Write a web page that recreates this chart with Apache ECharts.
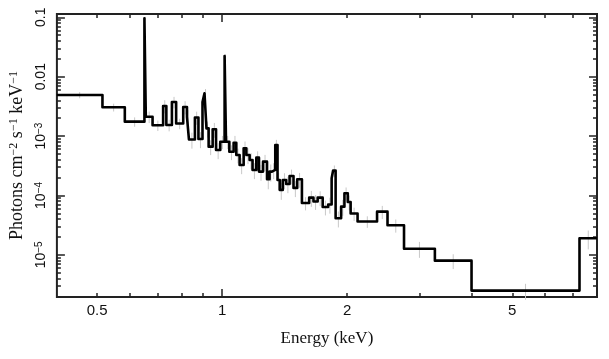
<!DOCTYPE html>
<html><head><meta charset="utf-8">
<script src="https://cdn.jsdelivr.net/npm/echarts@6/dist/echarts.min.js"></script>
<style>html,body{margin:0;padding:0;background:#fff}#c{width:609px;height:359px}</style>
</head><body><div id="c"></div>
<script>
// Bin edges in keV (n+1 values)
const binEdges = [0.4, 0.515, 0.583, 0.650, 0.655, 0.680, 0.721, 0.734, 0.757, 0.775,
  0.806, 0.823, 0.832, 0.860, 0.877, 0.897, 0.907, 0.917, 0.928, 0.949,
  0.967, 0.990, 1.014, 1.022, 1.041, 1.066, 1.082, 1.102, 1.127, 1.144,
  1.165, 1.184, 1.209, 1.227, 1.255, 1.283, 1.301, 1.319, 1.343, 1.360,
  1.377, 1.400, 1.427, 1.454, 1.486, 1.517, 1.557, 1.621, 1.660, 1.699,
  1.747, 1.801, 1.836, 1.851, 1.877, 1.935, 1.971, 2.008, 2.040, 2.120,
  2.362, 2.503, 2.743, 3.255, 3.989, 7.26, 8.0];
// Flux per bin (photons cm^-2 s^-1 keV^-1)
const flux = [4.92e-3, 3.05e-3, 1.75e-3, 0.0962, 2.12e-3, 1.52e-3, 3.21e-3, 1.54e-3, 3.75e-3, 1.63e-3,
  3.09e-3, 2.10e-3, 8.77e-4, 2.06e-3, 8.94e-4, 3.75e-3, 5.25e-3, 1.35e-3, 6.63e-4, 1.30e-3,
  5.83e-4, 8.04e-4, 0.0223, 8.04e-4, 5.46e-4, 7.74e-4, 4.81e-4, 3.26e-4, 6.23e-4, 4.81e-4,
  3.96e-4, 2.69e-4, 4.33e-4, 2.52e-4, 3.71e-4, 1.87e-4, 2.52e-4, 2.69e-4, 7.08e-4, 1.82e-4,
  1.24e-4, 1.82e-4, 1.56e-4, 2.13e-4, 1.34e-4, 1.87e-4, 7.48e-5, 9.18e-5, 7.93e-5, 9.18e-5,
  6.40e-5, 7.05e-5, 1.95e-4, 2.62e-4, 4.13e-5, 6.48e-5, 1.09e-4, 7.77e-5, 4.98e-5, 3.65e-5,
  5.34e-5, 3.15e-5, 1.27e-5, 7.99e-6, 2.50e-6, 1.90e-5];
// Relative 1-sigma errors per bin (estimated)
const relErr = [0.12, 0.15, 0.18, 0.06, 0.22, 0.2, 0.25, 0.22, 0.22, 0.2,
  0.25, 0.3, 0.3, 0.25, 0.3, 0.2, 0.18, 0.3, 0.28, 0.28,
  0.3, 0.25, 0.08, 0.25, 0.28, 0.3, 0.28, 0.3, 0.3, 0.3,
  0.3, 0.3, 0.28, 0.3, 0.3, 0.32, 0.32, 0.3, 0.22, 0.32,
  0.32, 0.3, 0.3, 0.28, 0.3, 0.28, 0.25, 0.3, 0.28, 0.28,
  0.28, 0.3, 0.25, 0.22, 0.3, 0.3, 0.25, 0.28, 0.25, 0.22,
  0.25, 0.25, 0.3, 0.28, 0.3, 0.35];
const xLabelValues = [0.5, 1, 2, 5];
const xMinorTicks = [0.5, 0.6, 0.7, 0.8, 0.9, 2, 3, 4, 5, 6, 7];
const xMajorTicks = [1];
const yLabelValues = [1e-5, 1e-4, 1e-3, 0.01, 0.1];
const yLabelTexts = ['{b|10}{s|\u22125}', '{b|10}{s|\u22124}', '{b|10}{s|\u22123}', '{b|0.01}', '{b|0.1}'];
const yDecades = [1e-6, 1e-5, 1e-4, 1e-3, 1e-2];
const yMantissas = [2, 3, 4, 5, 6, 7, 8, 9];
const xRange = [0.4, 8];
const yRange = [1.95e-6, 0.1137];

const L = Math.log10;
const yMinorTicks = [];
yDecades.forEach(d => yMantissas.forEach(m => yMinorTicks.push(m * d)));

const stepData = flux.map((f, i) => [L(binEdges[i]), L(f)]);
stepData.push([L(binEdges[binEdges.length - 1]), L(flux[flux.length - 1])]);
const errData = flux.map((f, i) => [
  (L(binEdges[i]) + L(binEdges[i + 1])) / 2, L(f * (1 - relErr[i])), L(f * (1 + relErr[i]))
]);

const frameColor = '#222';
const sans = 'Liberation Sans, Arial, sans-serif';
const serif = 'Liberation Serif, Times New Roman, serif';

function xAxisDef(pos, ticks, len, labels) {
  return {
    type: 'value', position: pos, min: L(xRange[0]), max: L(xRange[1]),
    axisLine: { show: false, onZero: false }, splitLine: { show: false },
    axisTick: { show: true, inside: true, length: len, customValues: ticks.map(L),
      lineStyle: { color: frameColor, width: 1.5 } },
    axisLabel: labels ? {
      show: true, customValues: xLabelValues.map(L), margin: 6,
      fontFamily: sans, fontSize: 15, color: '#111',
      formatter: v => String(Math.round(Math.pow(10, v) * 10) / 10)
    } : { show: false }
  };
}
function yAxisDef(pos, ticks, len, labels) {
  return {
    type: 'value', position: pos, min: L(yRange[0]), max: L(yRange[1]),
    axisLine: { show: false, onZero: false }, splitLine: { show: false },
    axisTick: { show: true, inside: true, length: len, customValues: ticks.map(L),
      lineStyle: { color: frameColor, width: 1.5 } },
    axisLabel: labels ? {
      show: true, customValues: yLabelValues.map(L), margin: 9, rotate: 90,
      formatter: v => {
        const k = yLabelValues.findIndex(y => Math.abs(L(y) - v) < 1e-6);
        return k >= 0 ? yLabelTexts[k] : '';
      },
      rich: {
        b: { fontFamily: sans, fontSize: 14, color: '#111' },
        s: { fontFamily: sans, fontSize: 10, color: '#111', verticalAlign: 'top' }
      }
    } : { show: false }
  };
}

const xAxes = [
  Object.assign(xAxisDef('bottom', xMinorTicks, 4, true), {
    name: 'Energy (keV)', nameLocation: 'middle', nameGap: 33,
    nameTextStyle: { fontFamily: serif, fontSize: 17, color: '#111' }
  }),
  xAxisDef('bottom', xMajorTicks, 8, false),
  xAxisDef('top', xMinorTicks, 4, false),
  xAxisDef('top', xMajorTicks, 8, false)
];
const yAxes = [
  Object.assign(yAxisDef('left', yMinorTicks, 4, true), {
    name: '{t|Photons cm}{s|\u22122}{t| s}{s|\u22121}{t| keV}{s|\u22121}',
    nameLocation: 'middle', nameGap: 30,
    nameTextStyle: { rich: {
      t: { fontFamily: serif, fontSize: 18, color: '#111' },
      s: { fontFamily: serif, fontSize: 12, color: '#111', verticalAlign: 'top' }
    } }
  }),
  yAxisDef('left', yLabelValues, 8, false),
  yAxisDef('right', yMinorTicks, 4, false),
  yAxisDef('right', yLabelValues, 8, false)
];

const chart = echarts.init(document.getElementById('c'), null, { renderer: 'canvas' });
chart.setOption({
  animation: false,
  backgroundColor: '#fff',
  grid: { left: 55, top: 14, width: 542, height: 283, show: true,
    borderColor: frameColor, borderWidth: 2, backgroundColor: 'transparent' },
  xAxis: xAxes,
  yAxis: yAxes,
  series: [
    {
      type: 'custom', xAxisIndex: 0, yAxisIndex: 0, z: 1, silent: true,
      data: errData,
      renderItem: (params, api) => {
        const p1 = api.coord([api.value(0), api.value(1)]);
        const p2 = api.coord([api.value(0), api.value(2)]);
        return { type: 'line', shape: { x1: p1[0], y1: p1[1], x2: p2[0], y2: p2[1] },
          style: { stroke: '#c8c8c8', lineWidth: 1 } };
      }
    },
    {
      type: 'line', xAxisIndex: 0, yAxisIndex: 0, z: 3, step: 'end',
      data: stepData, showSymbol: false, symbol: 'none', clip: true,
      lineStyle: { color: '#000', width: 2.6, join: 'round' }
    }
  ]
});
</script></body></html>
